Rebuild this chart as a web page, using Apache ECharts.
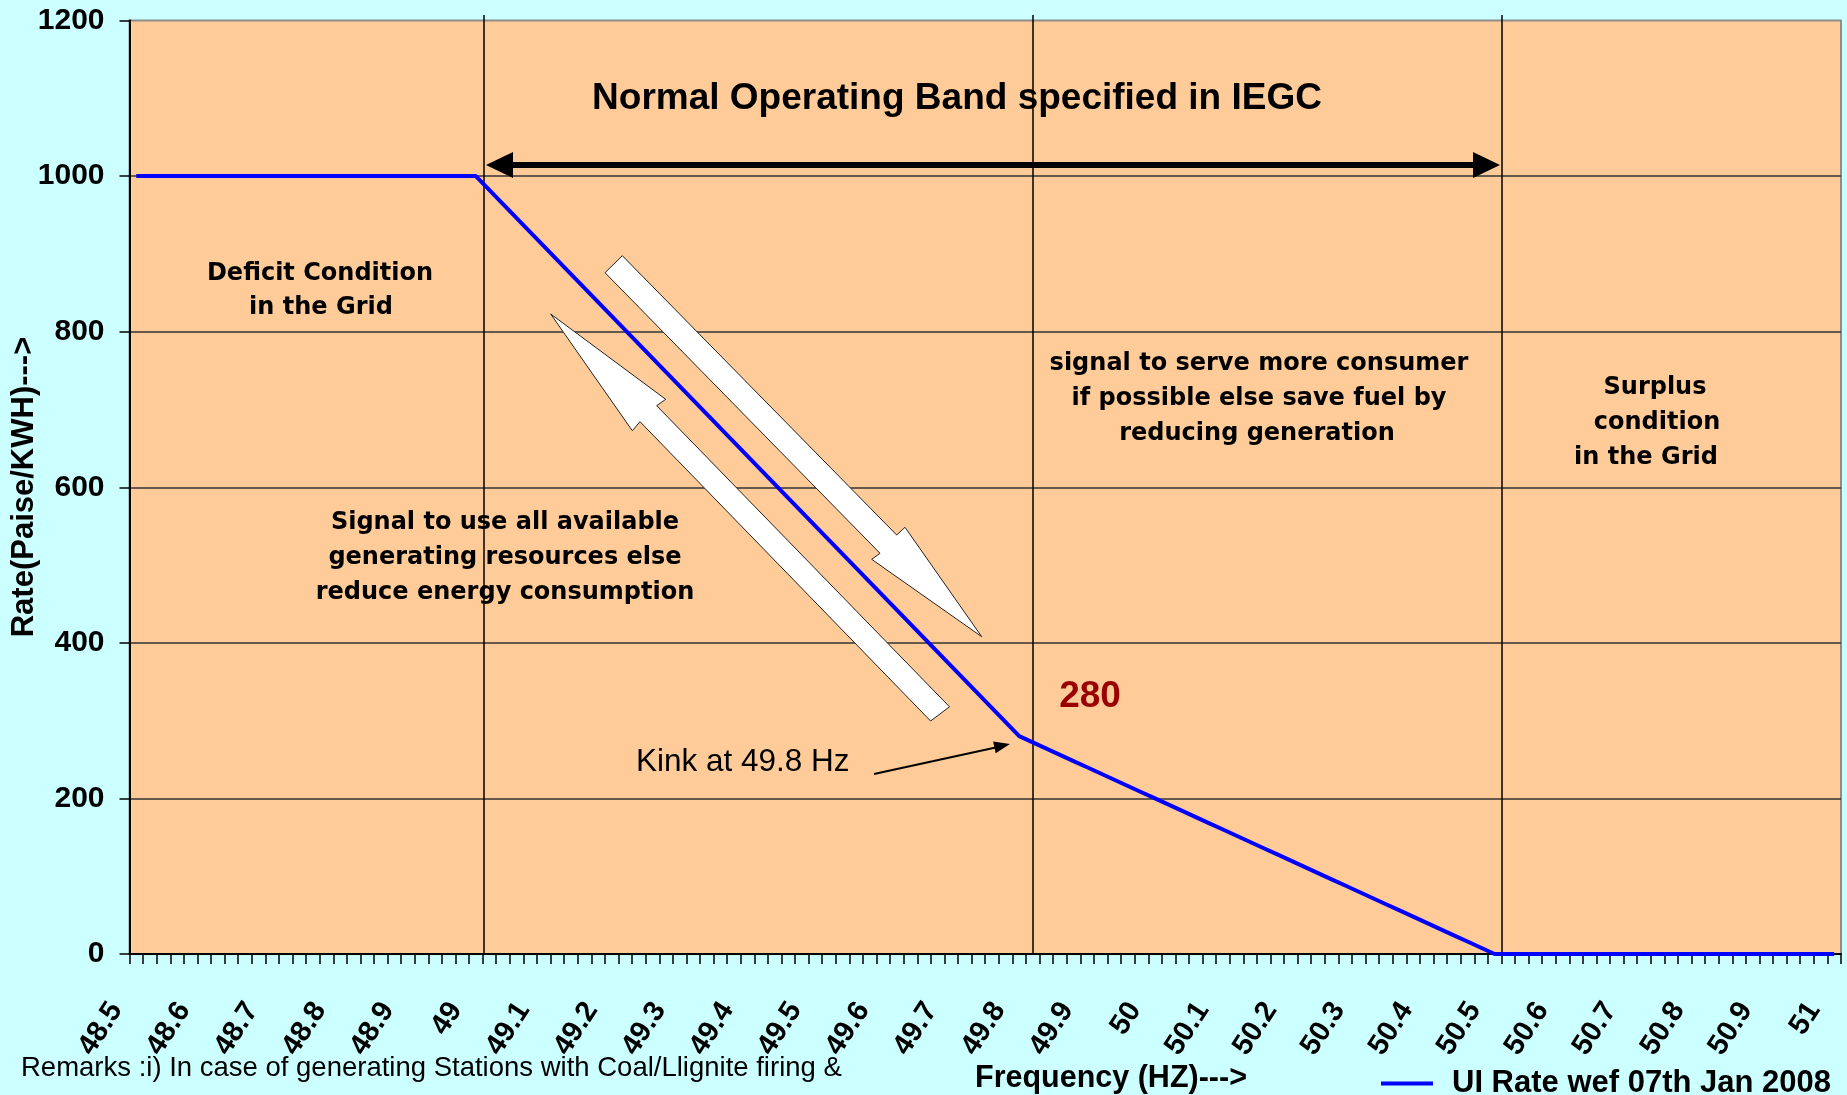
<!DOCTYPE html>
<html>
<head>
<meta charset="utf-8">
<script src="https://cdn.jsdelivr.net/npm/echarts@6/dist/echarts.min.js"></script>
<style>
html,body{margin:0;padding:0;background:#CCFFFF;}
#chart{width:1847px;height:1095px;}
</style>
</head>
<body>
<div id="chart"></div>
<script>
// Frequency categories (Hz), 0.02 Hz steps
const freq = [
'48.50','48.52','48.54','48.56','48.58','48.60','48.62','48.64','48.66','48.68',
'48.70','48.72','48.74','48.76','48.78','48.80','48.82','48.84','48.86','48.88',
'48.90','48.92','48.94','48.96','48.98','49.00','49.02','49.04','49.06','49.08',
'49.10','49.12','49.14','49.16','49.18','49.20','49.22','49.24','49.26','49.28',
'49.30','49.32','49.34','49.36','49.38','49.40','49.42','49.44','49.46','49.48',
'49.50','49.52','49.54','49.56','49.58','49.60','49.62','49.64','49.66','49.68',
'49.70','49.72','49.74','49.76','49.78','49.80','49.82','49.84','49.86','49.88',
'49.90','49.92','49.94','49.96','49.98','50.00','50.02','50.04','50.06','50.08',
'50.10','50.12','50.14','50.16','50.18','50.20','50.22','50.24','50.26','50.28',
'50.30','50.32','50.34','50.36','50.38','50.40','50.42','50.44','50.46','50.48',
'50.50','50.52','50.54','50.56','50.58','50.60','50.62','50.64','50.66','50.68',
'50.70','50.72','50.74','50.76','50.78','50.80','50.82','50.84','50.86','50.88',
'50.90','50.92','50.94','50.96','50.98','51.00'
];
// UI rate (Paise/KWH)
const uiRate = [
1000,1000,1000,1000,1000,1000,1000,1000,1000,1000,
1000,1000,1000,1000,1000,1000,1000,1000,1000,1000,
1000,1000,1000,1000,1000,1000,982,964,946,928,
910,892,874,856,838,820,802,784,766,748,
730,712,694,676,658,640,622,604,586,568,
550,532,514,496,478,460,442,424,406,388,
370,352,334,316,298,280,272,264,256,248,
240,232,224,216,208,200,192,184,176,168,
160,152,144,136,128,120,112,104,96,88,
80,72,64,56,48,40,32,24,16,8,
0,0,0,0,0,0,0,0,0,0,
0,0,0,0,0,0,0,0,0,0,
0,0,0,0,0,0
];
// Tick labels shown every 0.1 Hz
const xTickLabels = ['48.5','48.6','48.7','48.8','48.9','49','49.1','49.2','49.3','49.4','49.5','49.6','49.7','49.8','49.9','50','50.1','50.2','50.3','50.4','50.5','50.6','50.7','50.8','50.9','51'];
const yTickLabels = ['0','200','400','600','800','1000','1200'];
const seriesName = 'UI Rate wef 07th Jan 2008';

const ARIAL = "'Liberation Sans', Arial, sans-serif";
const VERD = "'DejaVu Sans', Verdana, sans-serif";

function arrowHead(x1, y1, x2, y2, len, half) {
  const dx = x2 - x1, dy = y2 - y1, L = Math.sqrt(dx*dx + dy*dy);
  const ux = dx / L, uy = dy / L, nx = -uy, ny = ux;
  const bx = x2 - len*ux, by = y2 - len*uy;
  return [[x2, y2], [bx + half*nx, by + half*ny], [bx - half*nx, by - half*ny]];
}

const graphics = [];
// vertical drawn lines
[484, 1033, 1502].forEach(function (x) {
  graphics.push({type:'line', z: 4, shape:{x1:x, y1:15, x2:x, y2:954}, style:{stroke:'#000', lineWidth:1.5}});
});
// Normal operating band double arrow
graphics.push({type:'rect', z: 6, shape:{x:510, y:162, width:966, height:6}, style:{fill:'#000'}});
graphics.push({type:'polygon', z: 6, shape:{points:[[486,165],[513,152],[513,178]]}, style:{fill:'#000'}});
graphics.push({type:'polygon', z: 6, shape:{points:[[1500,165],[1473,152],[1473,178]]}, style:{fill:'#000'}});
// white block arrows
graphics.push({type:'polygon', z: 6, shape:{points:[[622.3,255.7],[896.7,535],[905,527.3],[981.7,636.7],[871.7,559.3],[880,553.3],[605,272.7]]}, style:{fill:'#fff', stroke:'#222', lineWidth:1}});
graphics.push({type:'polygon', z: 6, shape:{points:[[550.7,314],[665.7,399.3],[656.7,405.7],[949.5,706.8],[930.6,721],[640,421.7],[632.3,430.7]]}, style:{fill:'#fff', stroke:'#222', lineWidth:1}});
// kink arrow
graphics.push({type:'line', z: 6, shape:{x1:874, y1:774, x2:998, y2:747}, style:{stroke:'#000', lineWidth:2}});
graphics.push({type:'polygon', z: 6, shape:{points: arrowHead(874, 774, 1010, 744, 16, 6)}, style:{fill:'#000'}});

function txt(text, x, y, font, align, color, rot) {
  const g = {type:'text', z: 7, x:x, y:y, style:{text:text, font:font, fill: color || '#000', textAlign: align || 'center', textVerticalAlign:'middle'}};
  if (rot) g.rotation = rot;
  graphics.push(g);
}
txt('Normal Operating Band specified in IEGC', 957, 99, 'bold 37px ' + ARIAL);
txt('Deficit Condition', 320, 274, 'bold 24px ' + VERD);
txt('in the Grid', 321, 308, 'bold 24px ' + VERD);
txt('Signal to use all available', 505, 523, 'bold 24px ' + VERD);
txt('generating resources else', 505, 558, 'bold 24px ' + VERD);
txt('reduce energy consumption', 505, 593, 'bold 24px ' + VERD);
txt('signal to serve more consumer', 1259, 364, 'bold 24px ' + VERD);
txt('if possible else save fuel by', 1259, 399, 'bold 24px ' + VERD);
txt('reducing generation', 1257, 434, 'bold 24px ' + VERD);
txt('Surplus', 1655, 388, 'bold 24px ' + VERD);
txt('condition', 1657, 423, 'bold 24px ' + VERD);
txt('in the Grid', 1646, 458, 'bold 24px ' + VERD);
txt('280', 1090, 697, 'bold 37px ' + ARIAL, 'center', '#990000');
txt('Kink at 49.8 Hz', 636, 762, '31.5px ' + ARIAL, 'left');
txt('Rate(Paise/KWH)--->', 24, 487, 'bold 31px ' + ARIAL, 'center', '#000', Math.PI/2);
txt('Frequency (HZ)--->', 975, 1079, 'bold 30.5px ' + ARIAL, 'left');
txt('Remarks :i) In case of generating Stations with Coal/Llignite firing &', 21, 1068, '27.5px ' + ARIAL, 'left');

const chart = echarts.init(document.getElementById('chart'));
chart.setOption({
  backgroundColor: '#CCFFFF',
  animation: false,
  grid: {left: 129.5, right: 6, top: 20.5, bottom: 141, show: true, backgroundColor: '#FFCC99', borderColor: '#8c8c8c', borderWidth: 2},
  legend: {
    left: 1376, top: 1063, itemWidth: 52, itemHeight: 4, icon: 'rect',
    data: [seriesName],
    textStyle: {fontFamily: ARIAL, fontSize: 31, fontWeight: 'bold', color: '#000', padding: [0,0,0,14]}
  },
  xAxis: {
    type: 'category', data: freq, boundaryGap: true,
    axisLine: {lineStyle: {color: '#000', width: 2}},
    axisTick: {show: true, interval: 0, length: 10, lineStyle: {color: '#000', width: 1.5}},
    axisLabel: {
      interval: 4, rotate: 57, margin: 20, padding: [0, 37, 0, 0],
      fontFamily: ARIAL, fontSize: 29, fontWeight: 'bold', color: '#000',
      formatter: function (v, i) { return xTickLabels[Math.round(i / 5)]; }
    },
    splitLine: {show: false}
  },
  yAxis: {
    type: 'value', min: 0, max: 1200, interval: 200,
    axisLine: {show: true, lineStyle: {color: '#000', width: 2}},
    axisTick: {show: true, length: 10, lineStyle: {color: '#000', width: 1.5}},
    axisLabel: {margin: 25, fontFamily: ARIAL, fontSize: 30, fontWeight: 'bold', color: '#000',
      formatter: function (v) { return yTickLabels[Math.round(v / 200)]; }},
    splitLine: {show: true, showMaxLine: false, lineStyle: {color: '#333', width: 1.5}}
  },
  series: [{
    name: seriesName, type: 'line', data: uiRate, symbol: 'none', z: 5,
    lineStyle: {color: '#0000FF', width: 4}, itemStyle: {color: '#0000FF'}
  }],
  graphic: {elements: graphics}
});
</script>
</body>
</html>
